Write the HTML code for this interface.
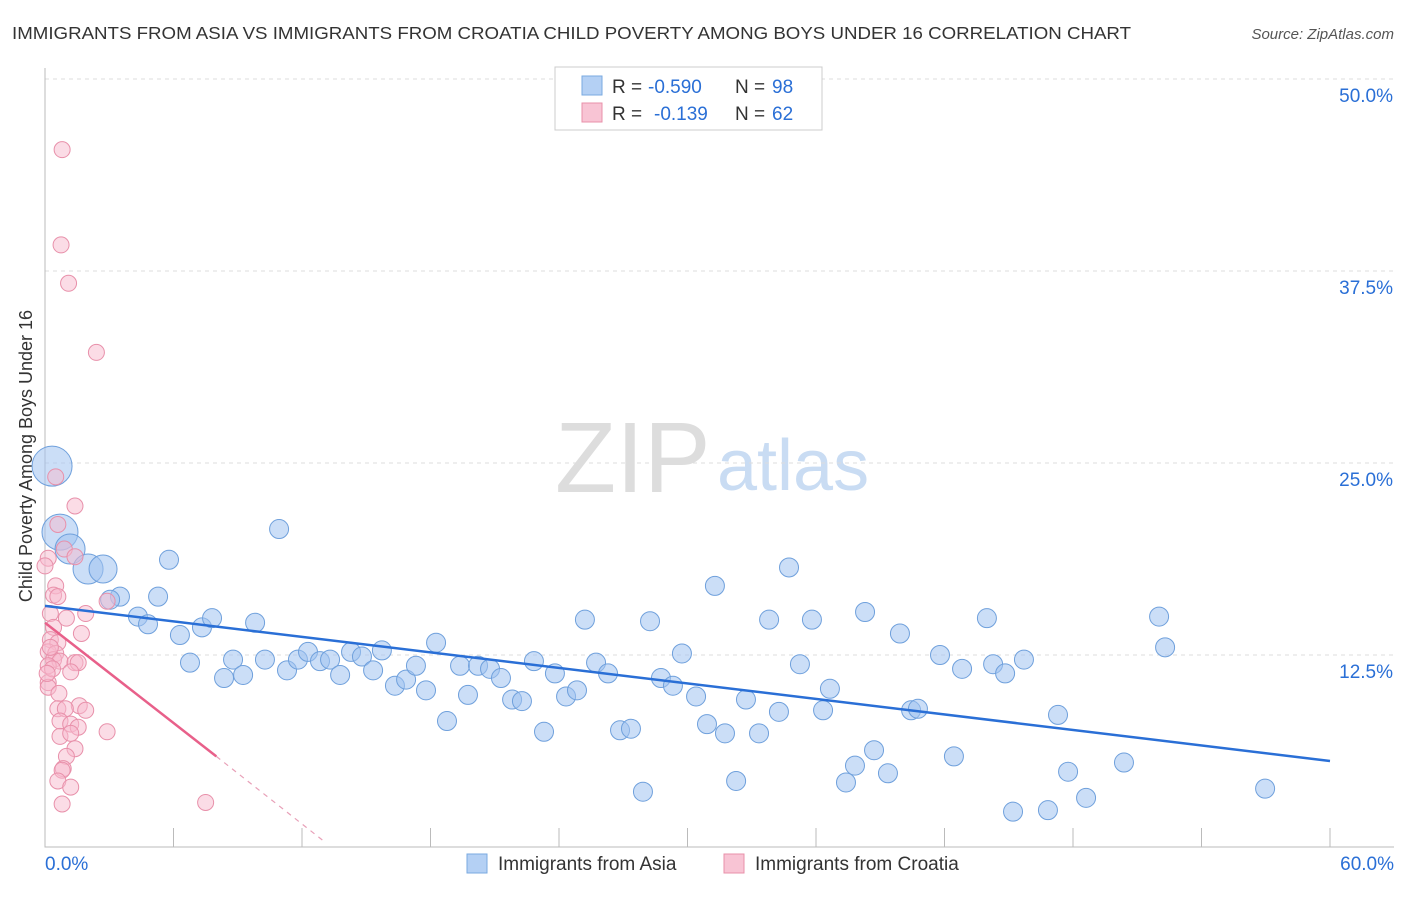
<!DOCTYPE html>
<html><head><meta charset="utf-8"><style>
body{margin:0;background:#fff;font-family:"Liberation Sans",sans-serif;}
svg text{font-family:"Liberation Sans",sans-serif;}
</style></head><body>
<svg id="chart" width="1406" height="892" xmlns="http://www.w3.org/2000/svg">
<text x="12" y="39" font-size="17.5" fill="#333" textLength="1119" lengthAdjust="spacingAndGlyphs">IMMIGRANTS FROM ASIA VS IMMIGRANTS FROM CROATIA CHILD POVERTY AMONG BOYS UNDER 16 CORRELATION CHART</text>
<text x="1394" y="39" font-size="15" fill="#555" font-style="italic" text-anchor="end">Source: ZipAtlas.com</text>
<text x="32" y="456" font-size="18" fill="#333" text-anchor="middle" transform="rotate(-90 32 456)">Child Poverty Among Boys Under 16</text>
<text x="555" y="492" font-size="100" fill="#ddd" font-family="Liberation Serif">ZIP</text>
<text x="717" y="490" font-size="72" fill="#c9dcf3">atlas</text>
<g id="grid"></g><g id="pts"></g><g id="lines"></g>
<g>
<rect x="555" y="67" width="267" height="63" fill="#fff" stroke="#ccc"/>
<rect x="582" y="76" width="20" height="19" fill="#b4d0f4" stroke="#7aaae0"/>
<rect x="582" y="103" width="20" height="19" fill="#f8c4d4" stroke="#e890aa"/>
<text x="612" y="93" font-size="19" fill="#333">R =</text>
<text x="648" y="93" font-size="19" fill="#2a6fd6">-0.590</text>
<text x="735" y="93" font-size="19" fill="#333">N =</text>
<text x="772" y="93" font-size="19" fill="#2a6fd6">98</text>
<text x="612" y="120" font-size="19" fill="#333">R =</text>
<text x="654" y="120" font-size="19" fill="#2a6fd6">-0.139</text>
<text x="735" y="120" font-size="19" fill="#333">N =</text>
<text x="772" y="120" font-size="19" fill="#2a6fd6">62</text>
</g>
<g>
<rect x="467" y="854" width="20" height="19" fill="#b4d0f4" stroke="#7aaae0"/>
<text x="498" y="870" font-size="19" fill="#333">Immigrants from Asia</text>
<rect x="724" y="854" width="20" height="19" fill="#f8c4d4" stroke="#e890aa"/>
<text x="755" y="870" font-size="19" fill="#333">Immigrants from Croatia</text>
</g>
<text x="45" y="870" font-size="19" fill="#2a6fd6">0.0%</text>
<text x="1394" y="870" font-size="19" fill="#2a6fd6" text-anchor="end">60.0%</text>
</svg>
<script>
const yTicks=[12.5,25,37.5,50];
const yTickLabels=["12.5%","25.0%","37.5%","50.0%"];
const asiaX=[0.33,0.70,1.17,2.01,2.71,3.50,3.04,4.34,4.81,5.28,5.79,6.30,6.77,7.33,7.80,8.36,8.78,9.25,9.81,10.27,10.93,11.30,11.81,12.28,12.84,13.31,13.78,14.29,14.80,15.32,15.73,16.34,16.86,17.32,17.79,18.26,18.77,19.38,19.75,20.22,20.78,21.29,21.81,22.27,22.83,23.30,23.81,24.33,24.84,25.21,25.73,26.29,26.85,27.36,27.92,28.25,28.76,29.32,29.74,30.40,30.91,31.28,31.75,32.27,32.73,33.34,33.81,34.27,34.74,35.25,35.81,36.33,36.65,37.40,37.82,38.29,38.71,39.36,39.92,40.44,40.76,41.79,42.44,42.82,43.98,44.27,44.83,45.20,45.71,46.83,47.30,47.77,48.61,50.38,52.02,52.30,56.97];
const asiaY=[24.8,20.5,19.4,18.1,18.1,16.3,16.1,15.0,14.5,16.3,18.7,13.8,12.0,14.3,14.9,11.0,12.2,11.2,14.6,12.2,20.7,11.5,12.2,12.7,12.1,12.2,11.2,12.7,12.4,11.5,12.8,10.5,10.9,11.8,10.2,13.3,8.2,11.8,9.9,11.8,11.6,11.0,9.6,9.5,12.1,7.5,11.3,9.8,10.2,14.8,12.0,11.3,7.6,7.7,3.6,14.7,11.0,10.5,12.6,9.8,8.0,17.0,7.4,4.3,9.6,7.4,14.8,8.8,18.2,11.9,14.8,8.9,10.3,4.2,5.3,15.3,6.3,4.8,13.9,8.9,9.0,12.5,5.9,11.6,14.9,11.9,11.3,2.3,12.2,2.4,8.6,4.9,3.2,5.5,15.0,13.0,3.8];
const croX=[0.8,0.75,1.1,2.4,0.5,1.4,0.6,0.9,0.15,1.4,0.5,0.4,0.6,2.9,1.9,0.25,0.4,1.7,0.25,0.6,0.15,0.5,0.4,0.7,1.4,1.55,0.15,1.2,0.15,0.15,0.65,1.6,0.6,1.9,0.95,0.7,1.2,1.55,2.9,0.7,1.2,1.4,1.0,0.85,0.8,0.6,1.2,0.8,7.5,0.25,0.35,0.1,1.0,0.0];
const croY=[45.4,39.2,36.7,32.2,24.1,22.2,21.0,19.4,18.8,18.9,17.0,16.4,16.3,16.0,15.2,15.2,14.3,13.9,13.5,13.3,12.7,12.6,12.2,12.1,12.0,12.0,11.8,11.4,10.7,10.4,10.0,9.2,9.0,8.9,9.0,8.2,8.0,7.8,7.5,7.2,7.4,6.4,5.9,5.1,5.0,4.3,3.9,2.8,2.9,13.0,11.6,11.3,14.9,18.3];
const asiaSizes=[20,18,15,15,14];
const X0=45,X1=1330,Y0=847,PXPER=15.36;
const sx=v=>X0+(v/60)*(X1-X0);
const sy=v=>Y0-v*PXPER;
const NS="http://www.w3.org/2000/svg";
const grid=document.getElementById('grid');
yTicks.forEach((t,i)=>{
 const l=document.createElementNS(NS,'line');
 l.setAttribute('x1',45);l.setAttribute('x2',1394);l.setAttribute('y1',sy(t));l.setAttribute('y2',sy(t));
 l.setAttribute('stroke','#ddd');l.setAttribute('stroke-dasharray','4,4');
 
 
 grid.appendChild(l);
 const tx=document.createElementNS(NS,'text');
 tx.setAttribute('x',1393);tx.setAttribute('y',sy(t)+23);tx.setAttribute('text-anchor','end');
 tx.setAttribute('font-size','19');tx.setAttribute('fill','#2a6fd6');tx.textContent=yTickLabels[i];
 
 
 grid.appendChild(tx);
});
const ax=document.createElementNS(NS,'path');
let d='M45 68 V847 H1394';
for(let i=0;i<=10;i++){d+=` M${sx(i*6)} 847 V828`;}
ax.setAttribute('d',d);ax.setAttribute('stroke','#bbb');ax.setAttribute('fill','none');


grid.appendChild(ax);
const pts=document.getElementById('pts');
asiaY.forEach((v,i)=>{
 const c=document.createElementNS(NS,'circle');
 c.setAttribute('cx',sx(asiaX[i]));c.setAttribute('cy',sy(v));
 c.setAttribute('r',i<asiaSizes.length?asiaSizes[i]:9.5);
 c.setAttribute('fill','rgba(160,195,240,0.55)');c.setAttribute('stroke','#6fa0dc');
 
 
 pts.appendChild(c);
});
croY.forEach((v,i)=>{
 const c=document.createElementNS(NS,'circle');
 c.setAttribute('cx',sx(croX[i]));c.setAttribute('cy',sy(v));
 c.setAttribute('r',8);
 c.setAttribute('fill','rgba(248,185,205,0.5)');c.setAttribute('stroke','#e890aa');
 
 
 pts.appendChild(c);
});
const lines=document.getElementById('lines');
function ln(x1,y1,x2,y2,col,w,dash,name){
 const l=document.createElementNS(NS,'line');
 l.setAttribute('x1',sx(x1));l.setAttribute('y1',sy(y1));l.setAttribute('x2',sx(x2));l.setAttribute('y2',sy(y2));
 l.setAttribute('stroke',col);l.setAttribute('stroke-width',w);if(dash)l.setAttribute('stroke-dasharray',dash);
 
 
 lines.appendChild(l);
}
ln(0,15.7,60,5.6,'#2a6fd6',2.5,null,'asia-trendline');
ln(0,14.6,8.0,5.9,'#e8608a',2.5,null,'croatia-trendline');
ln(8.0,5.9,13.0,0.4,'#e8a0b8',1.2,'5,5','croatia-trendline-extension');
</script>
</body></html>
